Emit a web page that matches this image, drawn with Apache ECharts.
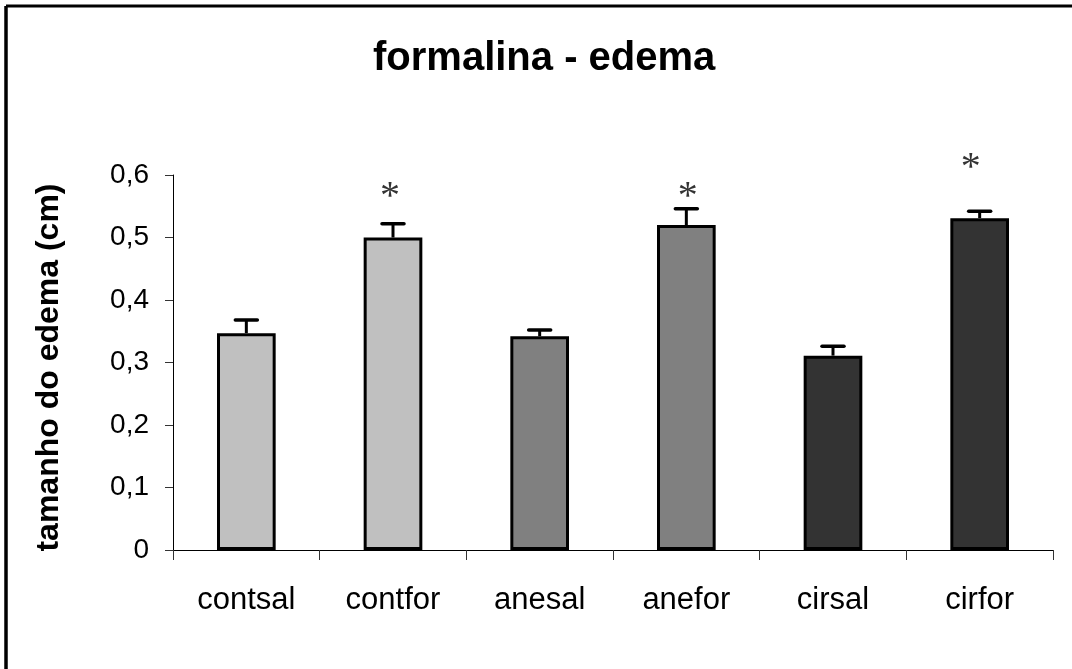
<!DOCTYPE html>
<html>
<head>
<meta charset="utf-8">
<script src="https://cdn.jsdelivr.net/npm/echarts@6/dist/echarts.min.js"></script>
<style>
  html, body { margin: 0; padding: 0; background: #fff; }
  #chart { width: 1072px; height: 669px; }
</style>
</head>
<body>
<div id="chart"></div>
<script>
// Groups and mean edema size (cm) with the error bar height (SEM)
const categories = ['contsal', 'contfor', 'anesal', 'anefor', 'cirsal', 'cirfor'];
const means = [0.347, 0.500, 0.342, 0.520, 0.311, 0.531];
const errors = [0.021, 0.022, 0.010, 0.026, 0.015, 0.011];
const barColors = ['#C0C0C0', '#C0C0C0', '#808080', '#808080', '#333333', '#333333'];
// Significance markers: position along the category band (0..6) and height
const starX = [1.48, 3.51, 5.44];
const starY = [0.577, 0.577, 0.623];
const yTicks = [0, 0.1, 0.2, 0.3, 0.4, 0.5, 0.6];

const chart = echarts.init(document.getElementById('chart'), null, { renderer: 'canvas' });

const font = 'Liberation Sans, Arial, sans-serif';

const option = {
  backgroundColor: '#ffffff',
  animation: false,
  title: {
    text: 'formalina - edema',
    left: 373,
    top: 39,
    padding: 0,
    textStyle: { fontFamily: font, fontSize: 40, fontWeight: 'bold', color: '#000' }
  },
  graphic: [
    { type: 'line', shape: { x1: 6, y1: 6, x2: 1072, y2: 6 }, style: { stroke: '#000', lineWidth: 3 } },
    { type: 'line', shape: { x1: 6, y1: 6, x2: 6, y2: 669 }, style: { stroke: '#000', lineWidth: 3.5 } }
  ],
  grid: { left: 173, right: 19, top: 175, bottom: 119, containLabel: false },
  xAxis: [
    {
      type: 'category',
      data: categories,
      axisLine: { lineStyle: { color: '#000', width: 1 } },
      axisTick: { show: true, length: 10, lineStyle: { color: '#333' } },
      axisLabel: { fontFamily: font, fontSize: 31, color: '#000', margin: 35 }
    },
    {
      type: 'value', min: 0, max: 6, show: false
    }
  ],
  yAxis: {
    type: 'value',
    min: 0,
    max: 0.6,
    interval: 0.1,
    name: 'tamanho do edema (cm)',
    nameLocation: 'middle',
    nameGap: 108,
    nameTextStyle: {
      fontFamily: font, fontSize: 32, fontWeight: 'bold', color: '#000',
      padding: [0, 10, 0, 0]
    },
    axisLine: { show: true, lineStyle: { color: '#000', width: 1 } },
    axisTick: { show: true, length: 8, lineStyle: { color: '#333' } },
    splitLine: { show: false },
    axisLabel: {
      fontFamily: font, fontSize: 28, color: '#000', margin: 24,
      formatter: v => {
        const i = yTicks.findIndex(t => Math.abs(t - v) < 1e-9);
        return i === 0 ? '0' : v.toFixed(1).replace('.', ',');
      }
    }
  },
  series: [
    {
      type: 'bar',
      xAxisIndex: 0,
      barWidth: '40%',
      data: means.map((v, i) => ({
        value: v,
        itemStyle: { color: barColors[i], borderColor: '#000', borderWidth: 3 }
      })),
      z: 2
    },
    {
      // error bars: stem from the bar top plus a cap
      type: 'custom',
      xAxisIndex: 0,
      data: means.map((v, i) => [i, v, v + errors[i]]),
      renderItem: (params, api) => {
        const base = api.coord([api.value(0), api.value(1)]);
        const top = api.coord([api.value(0), api.value(2)]);
        const capHalf = 11;
        return {
          type: 'group',
          children: [
            { type: 'line', shape: { x1: base[0], y1: base[1], x2: top[0], y2: top[1] },
              style: { stroke: '#000', lineWidth: 3 } },
            { type: 'line', shape: { x1: top[0] - capHalf, y1: top[1], x2: top[0] + capHalf, y2: top[1] },
              style: { stroke: '#000', lineWidth: 3.5, lineCap: 'round' } }
          ]
        };
      },
      z: 3
    },
    {
      type: 'scatter',
      xAxisIndex: 1,
      clip: false,
      symbolSize: 1,
      itemStyle: { color: 'rgba(0,0,0,0)' },
      data: starX.map((x, i) => [x, starY[i]]),
      label: {
        show: true,
        position: 'inside',
        formatter: '*',
        fontFamily: 'Liberation Serif, Times New Roman, serif',
        fontSize: 40,
        color: '#000',
        offset: [0, 8]
      },
      z: 4
    }
  ]
};

chart.setOption(option);
</script>
</body>
</html>
